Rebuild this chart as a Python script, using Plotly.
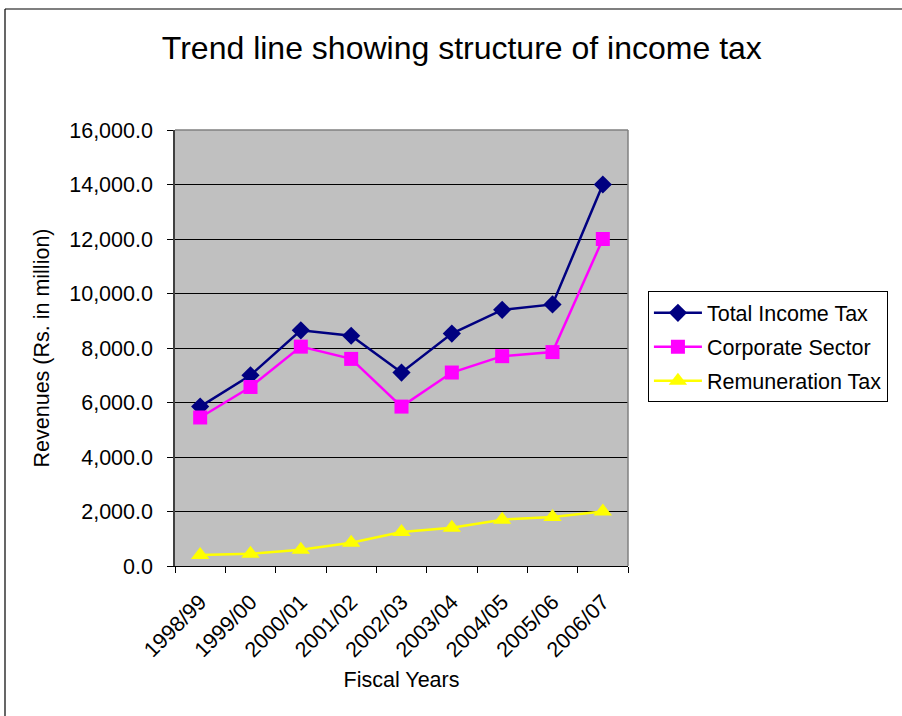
import plotly.graph_objects as go

# Fiscal years and revenues (Rs. in million)
fiscal_years = ["1998/99", "1999/00", "2000/01", "2001/02", "2002/03",
                "2003/04", "2004/05", "2005/06", "2006/07"]
total_income_tax = [5850, 7000, 8650, 8450, 7100, 8530, 9400, 9600, 14000]
corporate_sector = [5450, 6570, 8050, 7600, 5850, 7100, 7700, 7850, 12000]
remuneration_tax = [400, 450, 600, 850, 1250, 1400, 1700, 1800, 2000]

FONT = "Liberation Sans, Arial, sans-serif"

fig = go.Figure()
series = [
    ("Total Income Tax", total_income_tax, "#000080", "diamond", 14),
    ("Corporate Sector", corporate_sector, "#FF00FF", "square", 14),
    ("Remuneration Tax", remuneration_tax, "#FFFF00", "triangle-up", 16),
]
for i, (name, vals, color, symbol, size) in enumerate(series):
    fig.add_trace(go.Scatter(
        x=fiscal_years, y=vals, name=name, mode="lines+markers",
        line=dict(color=color, width=2.5),
        marker=dict(symbol=symbol, size=size, color=color),
        legendgroup=f"g{i}",
    ))

fig.update_layout(
    width=902, height=716,
    margin=dict(l=175, r=274, t=130, b=150, autoexpand=False),
    paper_bgcolor="white",
    plot_bgcolor="#C0C0C0",
    font=dict(family=FONT, size=21.5, color="black"),
    title=dict(
        text="Trend line showing structure of income tax",
        font=dict(family=FONT, size=32, color="black"),
        x=0.512, xref="container", xanchor="center",
        y=0.933, yref="container", yanchor="middle",
    ),
    showlegend=True,
    legend=dict(
        x=1.044, xanchor="left", y=0.63, yanchor="top",
        bgcolor="white", bordercolor="black", borderwidth=1,
        font=dict(family=FONT, size=21.5, color="black"),
        tracegroupgap=3,
        itemwidth=48,
    ),
)

fig.update_xaxes(
    type="category",
    range=[-0.5, len(fiscal_years) - 0.5],
    tickangle=-45,
    ticks="outside", ticklen=6, tickcolor="black", tickson="boundaries",
    ticklabelstandoff=14,
    showline=True, linecolor="black", linewidth=1,
    mirror=False,
    showgrid=False,
    tickfont=dict(family=FONT, size=21.5),
    title=dict(text="Fiscal Years", font=dict(family=FONT, size=21.5), standoff=10),
)
fig.update_yaxes(
    range=[0, 16000], dtick=2000, tickformat=",.1f",
    ticks="outside", ticklen=6, tickcolor="black",
    ticklabelstandoff=10,
    showline=True, linecolor="#404040", linewidth=1.5,
    showgrid=True, gridcolor="black", gridwidth=1,
    zeroline=False,
    tickfont=dict(family=FONT, size=21.5),
    title=dict(text="Revenues (Rs. in million)", font=dict(family=FONT, size=21.5), standoff=14),
)

# gray border on the top and right of the plot area
fig.add_shape(type="line", xref="paper", yref="paper", x0=0, x1=1, y0=1, y1=1,
              line=dict(color="#808080", width=1.5))
fig.add_shape(type="line", xref="paper", yref="paper", x0=1, x1=1, y0=0, y1=1,
              line=dict(color="#808080", width=1.5))

# chart-area frame (left and top edges)
fig.add_shape(type="line", xref="paper", yref="paper",
              x0=(5 - 175) / 453, x1=(5 - 175) / 453,
              y0=(566 - 9) / 436, y1=(566 - 720) / 436,
              line=dict(color="black", width=1.2))
fig.add_shape(type="line", xref="paper", yref="paper",
              x0=(5 - 175) / 453, x1=(910 - 175) / 453,
              y0=(566 - 9) / 436, y1=(566 - 9) / 436,
              line=dict(color="black", width=1.2))

fig.write_html("out.html")
